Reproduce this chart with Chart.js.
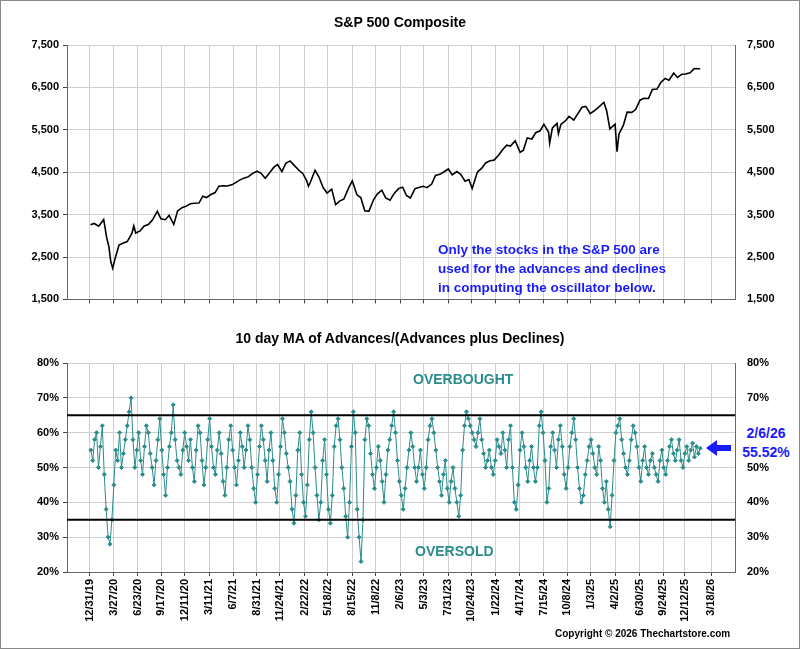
<!DOCTYPE html>
<html><head><meta charset="utf-8">
<script src="https://cdn.jsdelivr.net/npm/chart.js@4"></script>
<style>
body{margin:0;width:800px;height:649px;position:relative;background:#fff;font-family:Arial,"Liberation Sans",sans-serif;overflow:hidden}
#frame{position:absolute;left:0;top:0;width:798px;height:647px;border:1px solid #888}
canvas{position:absolute;left:0}
.t{position:absolute;font-weight:bold;white-space:nowrap}
</style></head><body>
<div id="frame"></div>
<canvas id="c1" style="top:0px" width="800" height="310"></canvas>
<canvas id="c2" style="top:320px" width="800" height="329"></canvas>
<div class="t" style="left:0;width:800px;text-align:center;top:14px;font-size:14px">S&amp;P 500 Composite</div>
<div class="t" style="left:0;width:800px;text-align:center;top:330px;font-size:14px">10 day MA of Advances/(Advances plus Declines)</div>
<div class="t" style="left:438px;top:240px;font-size:13.5px;color:#1a1aff;line-height:19px">Only the stocks in the S&amp;P 500 are<br>used for the advances and declines<br>in computing the oscillator below.</div>
<div class="t" style="left:413px;top:371px;font-size:14px;color:#2a8c8c">OVERBOUGHT</div>
<div class="t" style="left:415px;top:543px;font-size:14px;color:#2a8c8c">OVERSOLD</div>
<div class="t" style="left:736px;top:424px;width:60px;text-align:center;font-size:14px;color:#1a1aff;background:#fff;line-height:19px">2/6/26<br>55.52%</div>
<div class="t" style="left:555px;top:628px;font-size:10px">Copyright © 2026 Thechartstore.com</div>
<script>
const tickDates=["2019-12-31","2020-03-27","2020-06-23","2020-09-17","2020-12-11","2021-03-11","2021-06-07","2021-08-31","2021-11-24","2022-02-22","2022-05-18","2022-08-15","2022-11-08","2023-02-06","2023-05-03","2023-07-31","2023-10-24","2024-01-22","2024-04-17","2024-07-15","2024-10-08","2025-01-03","2025-04-02","2025-06-30","2025-09-24","2025-12-12","2026-03-18"];
const spDates=["2020-01-02","2020-01-15","2020-02-01","2020-02-19","2020-03-01","2020-03-09","2020-03-16","2020-03-23","2020-04-01","2020-04-15","2020-05-01","2020-05-15","2020-06-01","2020-06-08","2020-06-15","2020-07-01","2020-07-15","2020-08-01","2020-08-15","2020-09-02","2020-09-15","2020-10-01","2020-10-15","2020-11-01","2020-11-15","2020-12-01","2020-12-15",
"2021-01-01","2021-01-15","2021-02-01","2021-02-15","2021-03-01","2021-03-15","2021-04-01","2021-04-15","2021-05-01","2021-05-15","2021-06-01","2021-06-15","2021-07-01","2021-07-15","2021-08-01","2021-08-15","2021-09-01","2021-09-15","2021-10-01","2021-10-15","2021-11-01","2021-11-15","2021-12-01","2021-12-15","2021-12-31",
"2022-01-15","2022-02-01","2022-02-15","2022-03-01","2022-03-08","2022-03-15","2022-04-01","2022-04-15","2022-05-01","2022-05-15","2022-06-01","2022-06-15","2022-07-01","2022-07-15","2022-08-01","2022-08-15","2022-09-01","2022-09-15","2022-09-30","2022-10-15","2022-11-01","2022-11-15","2022-12-01","2022-12-15","2022-12-31",
"2023-01-15","2023-02-01","2023-02-15","2023-03-01","2023-03-15","2023-04-01","2023-04-15","2023-05-01","2023-05-15","2023-06-01","2023-06-15","2023-07-01","2023-07-15","2023-08-01","2023-08-15","2023-09-01","2023-09-15","2023-10-01","2023-10-15","2023-10-27","2023-11-15","2023-12-01","2023-12-15","2023-12-31",
"2024-01-15","2024-02-01","2024-02-15","2024-03-01","2024-03-15","2024-04-01","2024-04-19","2024-05-01","2024-05-15","2024-06-01","2024-06-15","2024-07-01","2024-07-15","2024-08-01","2024-08-05","2024-08-15","2024-09-01","2024-09-06","2024-09-15","2024-10-01","2024-10-15","2024-11-01","2024-11-15","2024-12-01","2024-12-15","2024-12-31",
"2025-01-15","2025-02-01","2025-02-19","2025-03-01","2025-03-13","2025-04-01","2025-04-08","2025-04-15","2025-05-01","2025-05-15","2025-06-01","2025-06-15","2025-07-01","2025-07-15","2025-08-01","2025-08-15","2025-09-01","2025-09-15","2025-10-01","2025-10-15","2025-11-01","2025-11-15","2025-12-01","2025-12-15","2025-12-31","2026-01-15","2026-02-01","2026-02-06"];
const spValues=[3258,3290,3225,3386,2954,2746,2386,2237,2470,2783,2830,2863,3055,3232,3066,3115,3226,3271,3372,3580,3401,3380,3483,3270,3585,3662,3694,
3756,3768,3773,3934,3901,3968,4019,4170,4181,4173,4202,4255,4319,4360,4395,4468,4524,4480,4357,4471,4613,4682,4513,4709,4766,
4662,4546,4471,4306,4170,4262,4545,4392,4131,4008,4101,3735,3825,3863,4118,4297,3966,3901,3585,3583,3856,3991,4076,3895,3839,
3999,4119,4147,3951,3891,4109,4137,4167,4136,4221,4425,4450,4505,4576,4437,4515,4450,4288,4327,4117,4502,4594,4719,4770,
4784,4906,5030,5137,5117,5243,4967,5018,5308,5283,5431,5475,5631,5446,5186,5543,5648,5408,5626,5708,5815,5728,5870,6032,6051,5881,
5949,6040,6144,5954,5521,5633,4982,5396,5604,5916,5912,5977,6198,6243,6238,6449,6460,6615,6711,6671,6840,6734,6812,6816,6845,6944,6939,6932];
const oscStart="2020-01-03";
const oscValues=[55,52,58,60,50,56,62,48,38,30,28,35,45,55,52,60,50,54,58,62,66,70,58,50,55,60,52,48,56,62,60,54,50,45,52,58,64,55,48,42,50,56,60,68,58,52,50,48,55,60,56,52,
58,50,46,55,62,60,52,45,50,58,64,56,50,48,55,60,54,46,42,50,58,62,55,50,45,52,60,56,50,55,62,58,50,44,40,48,56,62,58,52,46,55,60,52,44,40,48,56,64,60,54,50,
46,38,34,42,55,60,48,40,36,45,58,66,60,50,42,35,40,52,58,48,38,34,42,56,62,64,58,50,44,36,30,40,56,66,60,38,30,23,35,58,64,62,54,48,44,50,56,52,46,40,48,55,
58,62,66,60,52,46,42,38,44,50,55,60,56,50,46,50,55,48,44,50,58,62,64,60,55,50,46,42,48,52,44,40,46,50,44,40,36,42,55,62,66,64,62,60,58,56,60,64,58,54,50,52,
55,50,48,52,58,56,54,60,55,50,58,62,50,40,38,45,55,60,56,50,46,52,56,50,46,50,62,66,60,52,40,44,56,60,55,50,58,62,56,48,44,50,56,60,64,58,50,44,40,42,48,52,
56,58,54,50,48,56,52,44,40,46,38,33,42,52,60,62,64,58,54,50,48,52,58,62,60,56,50,46,52,56,50,48,52,54,50,48,46,52,55,50,48,52,56,58,54,52,55,58,52,50,54,56,
52,55,57,53,56,54,55.52];

const DAY=86400000, t=s=>Date.parse(s+"T00:00:00Z");
const xMin=t("2019-10-08"), xMax=t("2026-06-13");
const tickMs=tickDates.map(t);
const lab=ms=>{const d=new Date(ms);return (d.getUTCMonth()+1)+"/"+d.getUTCDate()+"/"+String(d.getUTCFullYear()).slice(2);};
const font={family:"Arial, 'Liberation Sans'",size:11,weight:"bold"};
const grid={color:"#cfcfcf",lineWidth:1,drawTicks:true,tickLength:4,tickColor:"#444"};
function xAxis(show,h){return {type:"linear",min:xMin,max:xMax,afterBuildTicks:s=>{s.ticks=tickMs.map(v=>({value:v}));},
 ticks:{display:show,autoSkip:false,minRotation:90,maxRotation:90,color:"#000",font,callback:v=>lab(v)},
 grid,border:{color:"#666"},afterFit:s=>{s.height=h;}};}
function yAxes(min,max,step,fmt){return {
 y:{position:"left",min,max,ticks:{stepSize:step,color:"#000",font,callback:fmt,padding:4},grid,border:{color:"#666"},afterFit:s=>{s.width=67;}},
 y2:{position:"right",min,max,ticks:{stepSize:step,color:"#000",font,callback:fmt,padding:4},grid:{display:false},border:{color:"#666"},afterFit:s=>{s.width=65;}}};}
Chart.defaults.animation=false;
new Chart(document.getElementById("c1"),{type:"line",
 data:{datasets:[{data:spDates.map((d,i)=>({x:t(d),y:spValues[i]})),borderColor:"#000",borderWidth:1.6,pointRadius:0,tension:0}]},
 options:{responsive:false,layout:{padding:{top:45,left:0,right:0,bottom:0}},plugins:{legend:{display:false},tooltip:{enabled:false}},
 scales:Object.assign({x:xAxis(false,8)},yAxes(1500,7500,1000,v=>v.toLocaleString("en-US")))}});
const lines={id:"lines",afterDatasetsDraw(c){const ctx=c.ctx,y=c.scales.y,a=c.chartArea;ctx.save();ctx.strokeStyle="#000";ctx.lineWidth=2;
 [65,35].forEach(v=>{const p=y.getPixelForValue(v);ctx.beginPath();ctx.moveTo(a.left,p);ctx.lineTo(a.right,p);ctx.stroke();});
 ctx.fillStyle="#1a1aff";const ay=128;ctx.beginPath();ctx.moveTo(706,ay);ctx.lineTo(717,ay-8);ctx.lineTo(717,ay-3);ctx.lineTo(731,ay-3);ctx.lineTo(731,ay+3);ctx.lineTo(717,ay+3);ctx.lineTo(717,ay+8);ctx.closePath();ctx.fill();ctx.restore();}};
new Chart(document.getElementById("c2"),{type:"line",
 data:{datasets:[{data:oscValues.map((v,i)=>({x:t(oscStart)+i*7*DAY,y:v})),borderColor:"#2a8c8c",backgroundColor:"#2a8c8c",borderWidth:1,pointStyle:"rectRot",pointRadius:2,tension:0}]},
 options:{responsive:false,layout:{padding:{top:43,left:0,right:0,bottom:0}},plugins:{legend:{display:false},tooltip:{enabled:false}},
 scales:Object.assign({x:xAxis(true,77)},yAxes(20,80,10,v=>v+"%"))},plugins:[lines]});
</script></body></html>
